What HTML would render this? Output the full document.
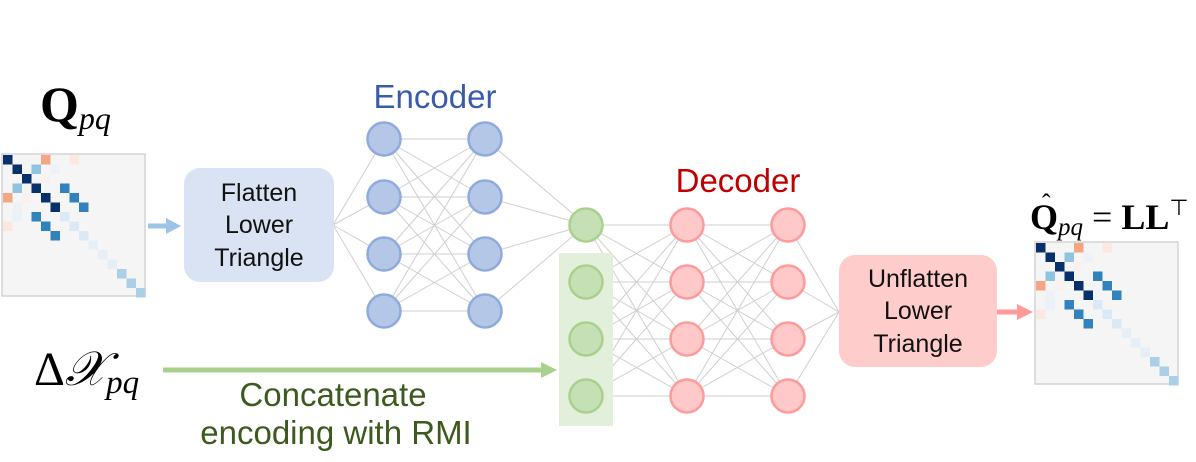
<!DOCTYPE html>
<html><head><meta charset="utf-8"><style>
html,body{margin:0;padding:0;background:#fff;width:1196px;height:462px;overflow:hidden}
svg text{font-family:"Liberation Sans",sans-serif}
.m{font-family:"Liberation Serif",serif}
</style></head><body>
<svg width="1196" height="462" viewBox="0 0 1196 462" xmlns="http://www.w3.org/2000/svg">
<defs>
<g id="mat">
<rect x="0" y="0" width="143" height="142" fill="#f5f5f5" stroke="#d4d4d4" stroke-width="1.5"/>
<g transform="translate(1,1)">
<rect x="0" y="0" width="9.5" height="9.5" fill="#08306b"/>
<rect x="38" y="0" width="9.5" height="9.5" fill="#f4a582"/>
<rect x="66.5" y="0" width="9.5" height="9.5" fill="#fbe8e0"/>
<rect x="9.5" y="9.5" width="9.5" height="9.5" fill="#08306b"/>
<rect x="28.5" y="9.5" width="9.5" height="9.5" fill="#8fc3e0"/>
<rect x="47.5" y="9.5" width="9.5" height="9.5" fill="#eef2f7"/>
<rect x="19" y="19" width="9.5" height="9.5" fill="#08306b"/>
<rect x="38" y="19" width="9.5" height="9.5" fill="#f7f1ef"/>
<rect x="9.5" y="28.5" width="9.5" height="9.5" fill="#8fc3e0"/>
<rect x="28.5" y="28.5" width="9.5" height="9.5" fill="#08306b"/>
<rect x="57" y="28.5" width="9.5" height="9.5" fill="#3182bd"/>
<rect x="0" y="38" width="9.5" height="9.5" fill="#f4a582"/>
<rect x="19" y="38" width="9.5" height="9.5" fill="#f7f1ef"/>
<rect x="38" y="38" width="9.5" height="9.5" fill="#08306b"/>
<rect x="66.5" y="38" width="9.5" height="9.5" fill="#3182bd"/>
<rect x="9.5" y="47.5" width="9.5" height="9.5" fill="#eef2f7"/>
<rect x="47.5" y="47.5" width="9.5" height="9.5" fill="#08306b"/>
<rect x="76" y="47.5" width="9.5" height="9.5" fill="#3182bd"/>
<rect x="9.5" y="57" width="9.5" height="9.5" fill="#eaf1f8"/>
<rect x="28.5" y="57" width="9.5" height="9.5" fill="#3182bd"/>
<rect x="57" y="57" width="9.5" height="9.5" fill="#dbe9f6"/>
<rect x="0" y="66.5" width="9.5" height="9.5" fill="#fbe8e0"/>
<rect x="38" y="66.5" width="9.5" height="9.5" fill="#3182bd"/>
<rect x="66.5" y="66.5" width="9.5" height="9.5" fill="#dbe9f6"/>
<rect x="47.5" y="76" width="9.5" height="9.5" fill="#3182bd"/>
<rect x="76" y="76" width="9.5" height="9.5" fill="#dbe9f6"/>
<rect x="85.5" y="85.5" width="9.5" height="9.5" fill="#e6eff8"/>
<rect x="95" y="95" width="9.5" height="9.5" fill="#e6eff8"/>
<rect x="104.5" y="104.5" width="9.5" height="9.5" fill="#e6eff8"/>
<rect x="114" y="114" width="9.5" height="9.5" fill="#abd0e6"/>
<rect x="123.5" y="123.5" width="9.5" height="9.5" fill="#abd0e6"/>
<rect x="133" y="133" width="9.5" height="9.5" fill="#abd0e6"/>
</g>
</g>
</defs>

<use href="#mat" x="2" y="154"/>
<use href="#mat" x="1035" y="242"/>

<g stroke="#cfcfcf" stroke-width="1" fill="none">
<path d="M333 225L384 139M333 225L384 197M333 225L384 254M333 225L384 311"/>
<path d="M384 139L485 139M384 139L485 197M384 139L485 254M384 139L485 311
M384 197L485 139M384 197L485 197M384 197L485 254M384 197L485 311
M384 254L485 139M384 254L485 197M384 254L485 254M384 254L485 311
M384 311L485 139M384 311L485 197M384 311L485 254M384 311L485 311"/>
<path d="M485 139L586 225M485 197L586 225M485 254L586 225M485 311L586 225"/>
<path d="M586 225L687 225M586 225L687 282M586 225L687 339M586 225L687 396
M586 282L687 225M586 282L687 282M586 282L687 339M586 282L687 396
M586 339L687 225M586 339L687 282M586 339L687 339M586 339L687 396
M586 396L687 225M586 396L687 282M586 396L687 339M586 396L687 396"/>
<path d="M687 225L788 225M687 225L788 282M687 225L788 339M687 225L788 396
M687 282L788 225M687 282L788 282M687 282L788 339M687 282L788 396
M687 339L788 225M687 339L788 282M687 339L788 339M687 339L788 396
M687 396L788 225M687 396L788 282M687 396L788 339M687 396L788 396"/>
<path d="M788 225L839 312M788 282L839 312M788 339L839 312M788 396L839 312"/>
</g>

<rect x="559" y="253" width="54" height="173" fill="#e2efda"/>

<g fill="#b4c7e7" stroke="#8faadc" stroke-width="2.5">
<circle cx="384" cy="139" r="16.5"/><circle cx="384" cy="197" r="16.5"/><circle cx="384" cy="254" r="16.5"/><circle cx="384" cy="311" r="16.5"/>
<circle cx="485" cy="139" r="16.5"/><circle cx="485" cy="197" r="16.5"/><circle cx="485" cy="254" r="16.5"/><circle cx="485" cy="311" r="16.5"/>
</g>
<g fill="#c5e0b4" stroke="#a9d18e" stroke-width="2.5">
<circle cx="586" cy="225" r="16.5"/><circle cx="586" cy="282" r="16.5"/><circle cx="586" cy="339" r="16.5"/><circle cx="586" cy="396" r="16.5"/>
</g>
<g fill="#ffc9c9" stroke="#ff9a9a" stroke-width="2.5">
<circle cx="687" cy="225" r="16.5"/><circle cx="687" cy="282" r="16.5"/><circle cx="687" cy="339" r="16.5"/><circle cx="687" cy="396" r="16.5"/>
<circle cx="788" cy="225" r="16.5"/><circle cx="788" cy="282" r="16.5"/><circle cx="788" cy="339" r="16.5"/><circle cx="788" cy="396" r="16.5"/>
</g>

<rect x="184" y="168" width="150" height="114" rx="16" fill="#dae3f3"/>
<text x="259" y="201" font-size="25" text-anchor="middle" fill="#111">Flatten</text>
<text x="259" y="233" font-size="25" text-anchor="middle" fill="#111">Lower</text>
<text x="259" y="266" font-size="25" text-anchor="middle" fill="#111">Triangle</text>

<rect x="839" y="255" width="158" height="112" rx="16" fill="#ffcccc"/>
<text x="918" y="287" font-size="25" text-anchor="middle" fill="#111">Unflatten</text>
<text x="918" y="319" font-size="25" text-anchor="middle" fill="#111">Lower</text>
<text x="918" y="352" font-size="25" text-anchor="middle" fill="#111">Triangle</text>

<rect x="148" y="223.5" width="20" height="5" fill="#9dc3e6"/>
<polygon points="166,218 181,226 166,234" fill="#9dc3e6"/>
<rect x="997" y="309.5" width="22" height="5" fill="#ff9a9a"/>
<polygon points="1017,304 1033,312 1017,320" fill="#ff9a9a"/>
<rect x="163" y="367.5" width="380" height="5" fill="#a9d18e"/>
<polygon points="541,362 557,370 541,378" fill="#a9d18e"/>

<text x="435" y="108" font-size="33" text-anchor="middle" fill="#3a5ca8">Encoder</text>
<text x="738" y="192" font-size="33" text-anchor="middle" fill="#c00000">Decoder</text>
<text x="333" y="406" font-size="33" text-anchor="middle" fill="#3d5a1e">Concatenate</text>
<text x="336" y="444" font-size="33" text-anchor="middle" fill="#3d5a1e">encoding with RMI</text>

<text class="m" x="40" y="121" font-size="50" font-weight="bold" fill="#000">Q<tspan font-size="32" font-style="italic" font-weight="normal" dy="8">pq</tspan></text>
<text class="m" x="34" y="385" font-size="48" fill="#000">Δ<tspan font-style="italic">𝒳</tspan><tspan font-size="33" font-style="italic" dy="8">pq</tspan></text>
<text class="m" x="1030" y="229" font-size="36" font-weight="bold" fill="#000">Q<tspan font-size="25" font-style="italic" font-weight="normal" dy="6">pq</tspan><tspan dy="-6" font-weight="normal"> = </tspan>LL<tspan font-size="22" font-weight="normal" dy="-14">⊤</tspan></text>
<text class="m" x="1042" y="212" font-size="26" fill="#000">ˆ</text>
</svg>
</body></html>
